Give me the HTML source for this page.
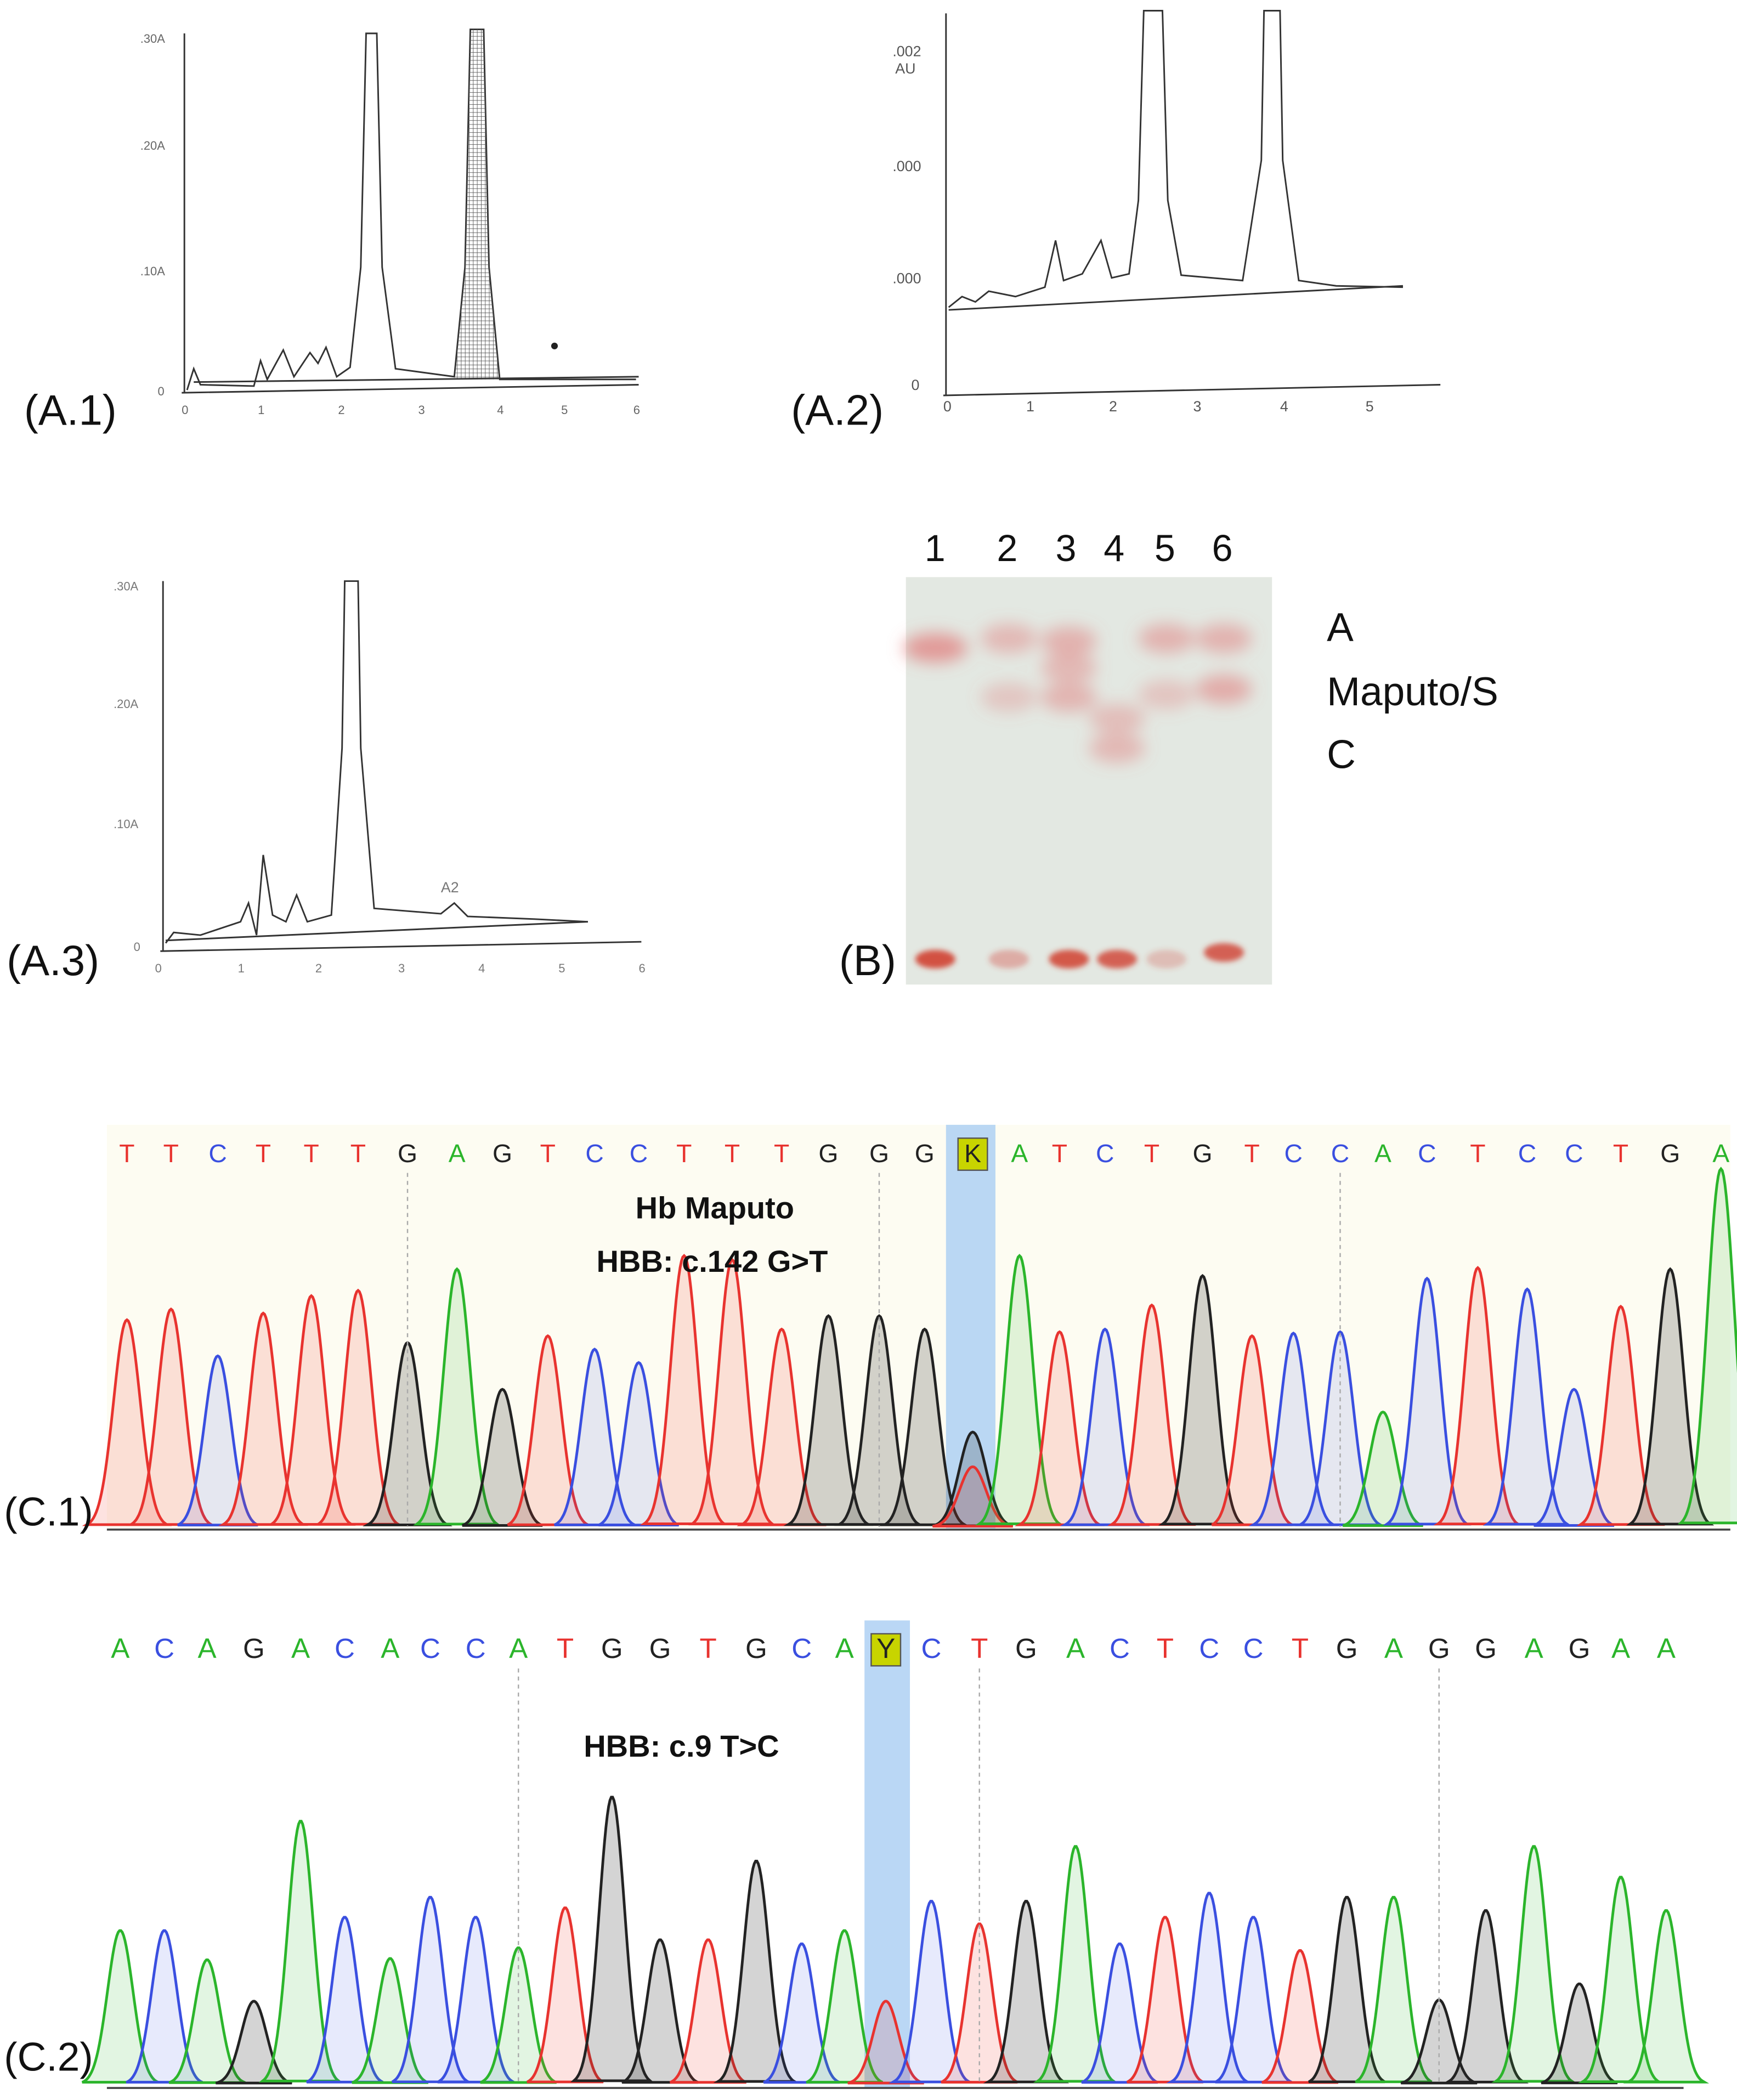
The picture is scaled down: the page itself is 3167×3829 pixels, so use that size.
<!DOCTYPE html>
<html><head><meta charset="utf-8"><style>
html,body{margin:0;padding:0;background:#fff}
svg{display:block}
text{font-family:"Liberation Sans",sans-serif}
</style></head><body>
<svg id="fig" width="3167" height="3829" viewBox="0 0 1300 1572" preserveAspectRatio="none" xmlns="http://www.w3.org/2000/svg">
<defs>
<filter id="blur" x="-50%" y="-50%" width="200%" height="200%"><feGaussianBlur stdDeviation="6"/></filter>
<filter id="blur2" x="-50%" y="-50%" width="200%" height="200%"><feGaussianBlur stdDeviation="2"/></filter>
<pattern id="hatch" width="3" height="3" patternUnits="userSpaceOnUse"><path d="M0 0H3M0 0V3" stroke="#555" stroke-width="0.7"/></pattern>
</defs>
<rect width="1300" height="1572" fill="#fff"/>

<!-- A.1 -->
<g stroke="#333" fill="none" stroke-width="1.2">
<line x1="138" y1="25" x2="138" y2="294"/>
<line x1="136" y1="294" x2="478" y2="288"/>
<path d="M140 292 L145 276 L150 288 L190 289 L195 270 L200 284 L212 262 L220 282 L232 264 L238 272 L244 260 L252 282 L262 275 L270 200 L274 25 L282 25 L286 200 L296 276 L340 282 L348 200 L352 22 L362 22 L366 200 L374 284 L476 284"/>
<path d="M348 200 L352 22 L362 22 L366 200 L374 284 L340 284 Z" fill="url(#hatch)" stroke="none"/>
<line x1="145" y1="286" x2="478" y2="282"/>
<circle cx="415" cy="259" r="2.5" fill="#222" stroke="none"/>
</g>
<g font-size="9" fill="#666">
<text x="105" y="32">.30A</text><text x="105" y="112">.20A</text><text x="105" y="206">.10A</text><text x="118" y="296">0</text>
<text x="136" y="310">0</text><text x="193" y="310">1</text><text x="253" y="310">2</text><text x="313" y="310">3</text><text x="372" y="310">4</text><text x="420" y="310">5</text><text x="474" y="310">6</text>
</g>
<text x="18" y="318" font-size="32" fill="#111">(A.1)</text>

<!-- A.2 -->
<g stroke="#333" fill="none" stroke-width="1.2">
<line x1="708" y1="10" x2="708" y2="296"/>
<line x1="706" y1="296" x2="1078" y2="288"/>
<path d="M710 230 L720 222 L730 226 L740 218 L760 222 L782 215 L790 180 L796 210 L810 205 L824 180 L832 208 L845 205 L852 150 L856 8 L870 8 L874 150 L884 206 L930 210 L944 120 L946 8 L958 8 L960 120 L972 210 L1000 214 L1050 215"/>
<line x1="710" y1="232" x2="1050" y2="214"/>
</g>
<g font-size="11" fill="#555">
<text x="668" y="42">.002</text><text x="670" y="55">AU</text><text x="668" y="128">.000</text><text x="668" y="212">.000</text><text x="682" y="292">0</text>
<text x="706" y="308">0</text><text x="768" y="308">1</text><text x="830" y="308">2</text><text x="893" y="308">3</text><text x="958" y="308">4</text><text x="1022" y="308">5</text>
</g>
<text x="592" y="318" font-size="32" fill="#111">(A.2)</text>

<!-- A.3 -->
<g stroke="#333" fill="none" stroke-width="1.2">
<line x1="122" y1="435" x2="122" y2="712"/>
<line x1="120" y1="712" x2="480" y2="705"/>
<path d="M124 706 L130 698 L150 700 L180 690 L186 676 L192 700 L197 640 L204 685 L214 690 L222 670 L230 690 L248 685 L256 560 L258 435 L268 435 L270 560 L280 680 L330 684 L340 676 L350 686 L400 688 L440 690"/>
<line x1="124" y1="704" x2="440" y2="690"/>
</g>
<g font-size="9" fill="#777">
<text x="85" y="442">.30A</text><text x="85" y="530">.20A</text><text x="85" y="620">.10A</text><text x="100" y="712">0</text>
<text x="116" y="728">0</text><text x="178" y="728">1</text><text x="236" y="728">2</text><text x="298" y="728">3</text><text x="358" y="728">4</text><text x="418" y="728">5</text><text x="478" y="728">6</text>
<text x="330" y="668" font-size="11">A2</text>
</g>
<text x="5" y="730" font-size="32" fill="#111">(A.3)</text>

<!-- B gel -->
<g>
<rect x="678" y="432" width="274" height="305" fill="#e3e8e2"/>
<g id="bands" filter="url(#blur)"></g>
<g id="spots" filter="url(#blur2)"></g>
</g>
<g font-size="28" fill="#111">
<text x="692" y="420">1</text><text x="746" y="420">2</text><text x="790" y="420">3</text><text x="826" y="420">4</text><text x="864" y="420">5</text><text x="907" y="420">6</text>
</g>
<g font-size="30" fill="#111">
<text x="993" y="480">A</text><text x="993" y="528">Maputo/S</text><text x="993" y="575">C</text>
</g>
<text x="628" y="730" font-size="32" fill="#111">(B)</text>

<!-- C panels -->
<rect x="80" y="842" width="1215" height="302" fill="#fdfcf2"/>
<rect x="708" y="842" width="37" height="302" fill="#a9cdf3" opacity="0.8"/>
<rect x="647" y="1213" width="34" height="350" fill="#a9cdf3" opacity="0.8"/>
<g id="c1"></g>
<g id="c2"></g>
<line x1="80" y1="1145" x2="1295" y2="1145" stroke="#444" stroke-width="1.5"/>
<line x1="80" y1="1563" x2="1260" y2="1563" stroke="#444" stroke-width="1.5"/>
<text x="535" y="912" font-size="23" font-weight="bold" text-anchor="middle" fill="#111">Hb Maputo</text>
<text x="533" y="952" font-size="23" font-weight="bold" text-anchor="middle" fill="#111">HBB: c.142 G&gt;T</text>
<text x="510" y="1315" font-size="23" font-weight="bold" text-anchor="middle" fill="#111">HBB: c.9 T&gt;C</text>
<text x="3" y="1142" font-size="30" fill="#111">(C.1)</text>
<text x="3" y="1550" font-size="30" fill="#111">(C.2)</text>
</svg>
<script>
const gelLanes=[700,755,800,836,873,916];
const gelBandLane=[0,1,1,2,2,2,3,3,4,4,5,5];
const gelBandY=[485,478,522,480,500,522,538,560,478,520,478,516];
const gelBandAlpha=[0.65,0.4,0.28,0.45,0.4,0.42,0.35,0.4,0.45,0.3,0.45,0.5];
const gelSpotAlpha=[0.9,0.35,0.85,0.8,0.25,0.8];

const c1Bases=["T","T","C","T","T","T","G","A","G","T","C","C","T","T","T","G","G","G","K","A","T","C","T","G","T","C","C","A","C","T","C","C","T","G","A"];
const c1PeakX=[95,128,163,197,233,268,305,342,376,410,445,478,512,548,585,620,658,692,728,763,793,827,862,900,937,968,1003,1035,1068,1106,1143,1178,1213,1250,1288];
const c1PeakTop=[988,980,1015,983,970,966,1005,950,1040,1000,1010,1020,940,943,995,985,985,995,1072,940,997,995,977,955,1000,998,997,1057,957,949,965,1040,978,950,875];
const c2Bases=["A","C","A","G","A","C","A","C","C","A","T","G","G","T","G","C","A","Y","C","T","G","A","C","T","C","C","T","G","A","G","G","A","G","A","A"];
const c2PeakX=[90,123,155,190,225,258,292,322,356,388,423,458,494,530,566,600,632,663,697,733,768,805,838,872,905,938,973,1008,1043,1077,1112,1148,1182,1213,1247];
const c2PeakTop=[1445,1445,1467,1498,1363,1435,1466,1420,1435,1458,1428,1345,1452,1452,1393,1455,1445,1498,1423,1440,1423,1382,1455,1435,1417,1435,1460,1420,1420,1497,1430,1382,1485,1405,1430];

const NS="http://www.w3.org/2000/svg";
const col={A:"#2bb52b",C:"#3a4fe0",G:"#222",T:"#e8332f",K:"#222",Y:"#222"};
const fillc={A:"rgba(60,190,60,0.15)",C:"rgba(60,80,230,0.12)",G:"rgba(40,40,40,0.2)",T:"rgba(240,60,50,0.15)"};
function mk(t,a,p){const e=document.createElementNS(NS,t);for(const k in a)e.setAttribute(k,a[k]);p.appendChild(e);return e;}

const bands=document.getElementById('bands');
gelBandY.forEach((y,i)=>{
  const e=mk('ellipse',{cx:gelLanes[gelBandLane[i]],cy:y,rx:gelBandLane[i]===0?24:21,ry:11,fill:'#e07070','fill-opacity':gelBandAlpha[i]},bands);
  
  
});
const spots=document.getElementById('spots');
gelLanes.forEach((x,i)=>{
  const e=mk('ellipse',{cx:x,cy:i===5?713:718,rx:15,ry:7,fill:'#d04030','fill-opacity':gelSpotAlpha[i]},spots);
  
  
});

function trace(g,bases,xs,tops,base,letterY,sig,fs,dashes){
  bases.forEach((b,i)=>{
    const x=xs[i];
    if(b==="K"||b==="Y"){
      const r=mk('rect',{x:x-11,y:letterY-18,width:22,height:24,fill:'#c8d400',stroke:'#555','stroke-width':1},g);
      
      
    }
    const t=mk('text',{x:x,y:letterY,'text-anchor':'middle','font-size':fs,fill:col[b]},g);
    t.textContent=b;
    
    
    let peaks=[[b,tops[i]]];
    if(b==="K") peaks=[["G",tops[i]],["T",1098]];
    if(b==="Y") peaks=[["T",tops[i]]];
    peaks.forEach(([c,top])=>{
      const h=base-top;let d="";
      for(let dx=-3*sig;dx<=3*sig;dx+=1){const y=base-h*Math.exp(-dx*dx/(2*sig*sig));d+=(d?"L":"M")+(x+dx)+" "+y.toFixed(1);}
      const p=mk('path',{d:d+"Z",fill:fillc[c],stroke:col[c],'stroke-width':2},g);
      
      
    });
  });
  dashes.forEach(x=>mk('line',{x1:x,y1:letterY+8,x2:x,y2:base,stroke:'#aaa','stroke-dasharray':'3,3'},g));
}
trace(document.getElementById('c1'),c1Bases,c1PeakX,c1PeakTop,1143,870,10,19,[305,658,1003]);
trace(document.getElementById('c2'),c2Bases,c2PeakX,c2PeakTop,1560,1241,9.5,21,[388,733,1077]);
</script>
</body></html>
